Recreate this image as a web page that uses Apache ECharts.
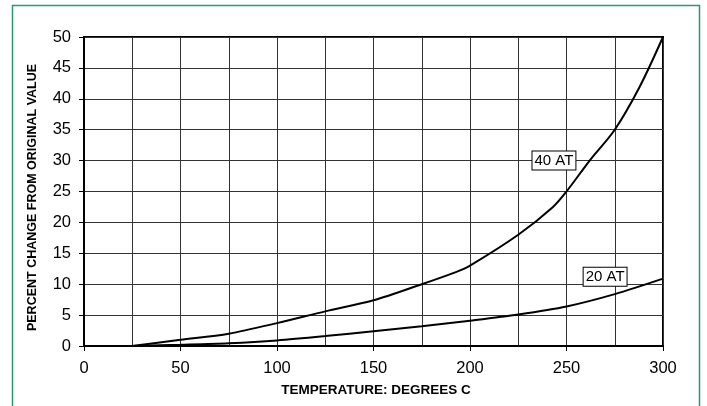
<!DOCTYPE html>
<html>
<head>
<meta charset="utf-8">
<script src="https://cdn.jsdelivr.net/npm/echarts@6/dist/echarts.min.js"></script>
<style>html,body{margin:0;padding:0;background:#fff;}#c{width:707px;height:406px;}</style>
</head>
<body>
<div id="c"></div>
<script>
const xTitle = 'TEMPERATURE: DEGREES C';
const yTitle = 'PERCENT CHANGE FROM ORIGINAL VALUE';
const at40Temp = [25, 50, 75, 100, 125, 150, 175, 193, 200, 225, 243, 250, 262, 275, 288, 300];
const at40Val  = [0, 1.0, 2.0, 3.7, 5.6, 7.4, 10.0, 12.0, 13.0, 18.0, 22.5, 25.0, 30.0, 35.0, 42.0, 50.0];
const at20Temp = [25, 50, 75, 100, 125, 150, 175, 200, 225, 250, 275, 300];
const at20Val  = [0, 0.2, 0.45, 0.9, 1.6, 2.4, 3.2, 4.1, 5.1, 6.4, 8.4, 10.9];
const label40 = {text: '40 AT', x: 243.5, y: 30};
const label20 = {text: '20 AT', x: 270, y: 11.2};

const pair = (xs, ys) => xs.map((x, i) => [x, ys[i]]);
const font = 'Arial, "Liberation Sans", sans-serif';
const boxLabel = (l) => ({
  coord: [l.x, l.y], symbol: 'rect', symbolSize: 0,
  label: {show: true, position: 'inside', formatter: l.text, color: '#000', fontSize: 15, fontFamily: font,
    backgroundColor: '#fff', borderColor: '#000', borderWidth: 1, padding: [2, 2, 1, 2]}
});

const chart = echarts.init(document.getElementById('c'), null, {renderer: 'canvas'});
chart.setOption({
  animation: false,
  backgroundColor: '#fff',
  graphic: [{type: 'rect', shape: {x: 12.5, y: 5.5, width: 687, height: 440}, style: {fill: 'none', stroke: '#2a9a6c', lineWidth: 1.5}, z: 100}],
  grid: {left: 84, right: 44, top: 37, bottom: 60, show: true, borderColor: '#000', borderWidth: 2, backgroundColor: 'transparent'},
  xAxis: {
    type: 'value', min: 0, max: 300, interval: 50,
    name: xTitle, nameLocation: 'middle', nameGap: 37,
    nameTextStyle: {fontFamily: font, fontWeight: 'bold', fontSize: 13.5, color: '#000', padding: [0, 0, 0, 5]},
    axisLine: {show: true, lineStyle: {color: '#000', width: 2}},
    axisTick: {show: true, length: 5, lineStyle: {color: '#000', width: 1}},
    axisLabel: {fontFamily: font, fontSize: 16.5, color: '#000', margin: 14},
    splitLine: {show: true, lineStyle: {color: '#333', width: 1}},
    minorTick: {show: false, splitNumber: 2},
    minorSplitLine: {show: true, lineStyle: {color: '#333', width: 1}}
  },
  yAxis: {
    type: 'value', min: 0, max: 50, interval: 5,
    name: yTitle, nameLocation: 'middle', nameGap: 45, nameRotate: 90,
    nameTextStyle: {fontFamily: font, fontWeight: 'bold', fontSize: 12.5, color: '#000', padding: [0, 12, 0, 0]},
    axisLine: {show: true, lineStyle: {color: '#000', width: 2}},
    axisTick: {show: true, length: 5, lineStyle: {color: '#000', width: 1}},
    axisLabel: {fontFamily: font, fontSize: 16.5, color: '#000', margin: 13},
    splitLine: {show: true, lineStyle: {color: '#333', width: 1}}
  },
  series: [
    {name: '40 AT', type: 'line', data: pair(at40Temp, at40Val), smooth: 0.3, showSymbol: false,
      lineStyle: {color: '#000', width: 2}, markPoint: {data: [boxLabel(label40)]}, z: 5},
    {name: '20 AT', type: 'line', data: pair(at20Temp, at20Val), smooth: 0.3, showSymbol: false,
      lineStyle: {color: '#000', width: 2}, markPoint: {data: [boxLabel(label20)]}, z: 5}
  ]
});
</script>
</body>
</html>
